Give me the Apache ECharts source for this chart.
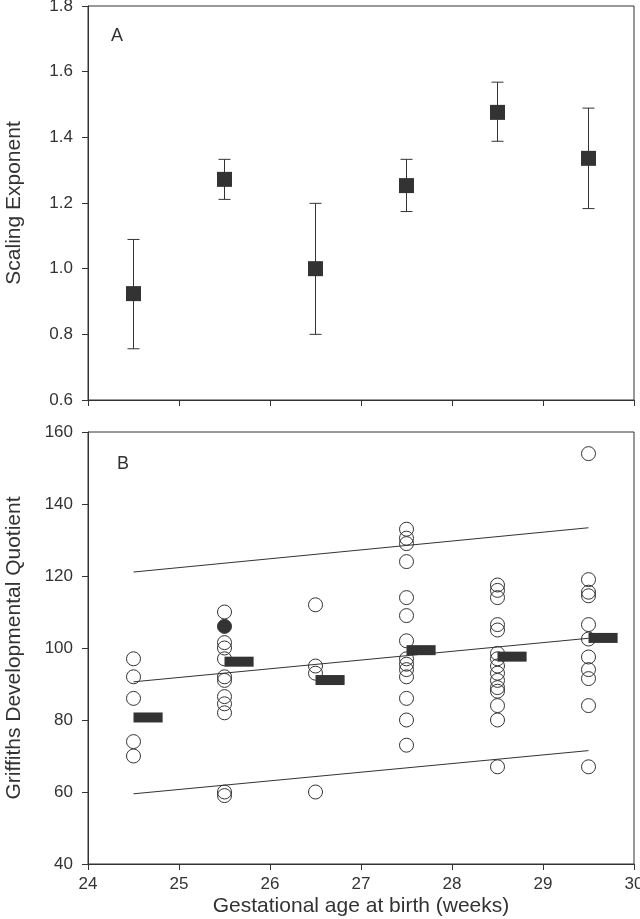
<!DOCTYPE html>
<html>
<head>
<meta charset="utf-8">
<script src="https://cdn.jsdelivr.net/npm/echarts@6/dist/echarts.min.js"></script>
<style>
html,body{margin:0;padding:0;background:#fff;}
#chart{width:640px;height:919px;}
</style>
</head>
<body>
<div id="chart"></div>
<script>
// ---- Panel A: scaling exponent (mean with error bars) ----
const weeks = [24.5, 25.5, 26.5, 27.5, 28.5, 29.5];
const exponent = [0.924, 1.272, 1.000, 1.253, 1.476, 1.336];
const exponentUpper = [1.089, 1.333, 1.199, 1.333, 1.568, 1.489];
const exponentLower = [0.756, 1.211, 0.800, 1.174, 1.388, 1.183];

// ---- Panel B: Griffiths developmental quotient per gestational week ----
const gdq245 = [97, 92, 86, 74, 70];
const gdq255 = [110, 101.5, 100, 97, 92, 91, 86.5, 84.5, 82, 60, 59];
const gdq255Filled = [106];
const gdq265 = [112, 95, 93, 60];
const gdq275 = [133, 130.5, 129, 124, 114, 109, 102, 97, 95.5, 94, 92, 86, 80, 73];
const gdq285 = [117.5, 116, 114, 106.5, 105, 98.5, 97, 95, 93, 91, 89, 88, 84, 80, 67];
const gdq295 = [154, 119, 115.5, 114.5, 106.5, 102.5, 97.5, 94, 91.5, 84, 67];
const gdqMean = [80.7, 96.2, 91.1, 99.4, 97.6, 102.8];

// regression line and prediction band (x from 24.5 to 29.5)
const fitX = [24.5, 29.5];
const fitUpper = [121.1, 133.4];
const fitMid = [90.6, 102.7];
const fitLower = [59.5, 71.5];

const xTicks = [24, 25, 26, 27, 28, 29, 30];

const openGroups = [[24.5, gdq245], [25.5, gdq255], [26.5, gdq265], [27.5, gdq275], [28.5, gdq285], [29.5, gdq295]];
const openPoints = [];
openGroups.forEach(([w, arr]) => arr.forEach(v => openPoints.push([w, v])));
const filledPoints = gdq255Filled.map(v => [25.5, v]);

const INK = '#333';
const FONT = 'Liberation Sans, Arial, sans-serif';
const MEAN_SPAN = 0.32; // mean bar extends this many weeks right of the column

const chart = echarts.init(document.getElementById('chart'), null, {renderer: 'canvas'});

const axisCommon = {
  axisLine: {show: true, lineStyle: {color: INK, width: 1}},
  axisTick: {show: true, inside: false, length: 6, lineStyle: {color: INK, width: 1}},
  splitLine: {show: false},
  nameTextStyle: {color: INK, fontFamily: FONT, fontSize: 21},
};
const LABEL_SIZE = 17;

chart.setOption({
  backgroundColor: '#fff',
  animation: false,
  grid: [
    {left: 88, top: 6, width: 546, height: 394, show: true, borderColor: INK, borderWidth: 1,
      outerBoundsMode: 'none', containLabel: false},
    {left: 88, top: 432, width: 546, height: 432, show: true, borderColor: INK, borderWidth: 1,
      outerBoundsMode: 'none', containLabel: false}
  ],
  xAxis: [
    Object.assign({}, axisCommon, {
      type: 'value', gridIndex: 0, min: 24, max: 30, interval: 1,
      axisLabel: {show: false}
    }),
    Object.assign({}, axisCommon, {
      type: 'value', gridIndex: 1, min: 24, max: 30, interval: 1,
      axisLabel: {color: INK, fontFamily: FONT, fontSize: LABEL_SIZE, margin: 12, hideOverlap: false,
        showMinLabel: true, showMaxLabel: true,
        formatter: v => xTicks.includes(v) ? String(v) : ''},
      name: 'Gestational age at birth (weeks)', nameLocation: 'middle', nameGap: 32
    })
  ],
  yAxis: [
    Object.assign({}, axisCommon, {
      type: 'value', gridIndex: 0, min: 0.6, max: 1.8, interval: 0.2,
      axisLabel: {color: INK, fontFamily: FONT, fontSize: LABEL_SIZE, margin: 15, formatter: v => v.toFixed(1)},
      name: 'Scaling Exponent', nameLocation: 'middle', nameGap: 63, nameRotate: 90
    }),
    Object.assign({}, axisCommon, {
      type: 'value', gridIndex: 1, min: 40, max: 160, interval: 20,
      axisLabel: {color: INK, fontFamily: FONT, fontSize: LABEL_SIZE, margin: 15},
      name: 'Griffiths Developmental Quotient', nameLocation: 'middle', nameGap: 63, nameRotate: 90
    })
  ],
  graphic: [
    {type: 'text', left: 111, top: 27, style: {text: 'A', fill: INK, font: '18px ' + FONT}},
    {type: 'text', left: 117, top: 455, style: {text: 'B', fill: INK, font: '18px ' + FONT}}
  ],
  series: [
    // Panel A error bars
    {
      type: 'custom', xAxisIndex: 0, yAxisIndex: 0, z: 2,
      data: weeks.map((w, i) => [w, exponentUpper[i], exponentLower[i]]),
      renderItem: (params, api) => {
        const x = api.value(0);
        const top = api.coord([x, api.value(1)]);
        const bot = api.coord([x, api.value(2)]);
        const half = 6;
        const st = {stroke: INK, lineWidth: 1};
        return {type: 'group', children: [
          {type: 'line', shape: {x1: top[0], y1: top[1], x2: bot[0], y2: bot[1]}, style: st},
          {type: 'line', shape: {x1: top[0] - half, y1: top[1], x2: top[0] + half, y2: top[1]}, style: st},
          {type: 'line', shape: {x1: bot[0] - half, y1: bot[1], x2: bot[0] + half, y2: bot[1]}, style: st}
        ]};
      }
    },
    // Panel A means
    {
      type: 'scatter', xAxisIndex: 0, yAxisIndex: 0, z: 3,
      symbol: 'rect', symbolSize: 15,
      itemStyle: {color: INK, opacity: 1},
      data: weeks.map((w, i) => [w, exponent[i]])
    },
    // Panel B regression / prediction lines
    {type: 'line', xAxisIndex: 1, yAxisIndex: 1, z: 2, symbol: 'none', lineStyle: {color: INK, width: 1},
      data: fitX.map((x, i) => [x, fitUpper[i]])},
    {type: 'line', xAxisIndex: 1, yAxisIndex: 1, z: 2, symbol: 'none', lineStyle: {color: INK, width: 1},
      data: fitX.map((x, i) => [x, fitMid[i]])},
    {type: 'line', xAxisIndex: 1, yAxisIndex: 1, z: 2, symbol: 'none', lineStyle: {color: INK, width: 1},
      data: fitX.map((x, i) => [x, fitLower[i]])},
    // Panel B open circles
    {
      type: 'scatter', xAxisIndex: 1, yAxisIndex: 1, z: 3,
      symbol: 'circle', symbolSize: 14,
      itemStyle: {color: 'rgba(255,255,255,0)', borderColor: INK, borderWidth: 1, opacity: 1},
      data: openPoints
    },
    // Panel B filled circle
    {
      type: 'scatter', xAxisIndex: 1, yAxisIndex: 1, z: 3,
      symbol: 'circle', symbolSize: 14,
      itemStyle: {color: INK, borderColor: INK, borderWidth: 1, opacity: 1},
      data: filledPoints
    },
    // Panel B group means (horizontal bars)
    {
      type: 'custom', xAxisIndex: 1, yAxisIndex: 1, z: 4,
      data: weeks.map((w, i) => [w, gdqMean[i]]),
      renderItem: (params, api) => {
        const x = api.value(0), v = api.value(1);
        const p0 = api.coord([x, v]);
        const p1 = api.coord([x + MEAN_SPAN, v]);
        return {type: 'rect', shape: {x: p0[0], y: p0[1] - 5, width: p1[0] - p0[0], height: 10},
          style: {fill: INK}};
      }
    }
  ]
});
</script>
</body>
</html>
